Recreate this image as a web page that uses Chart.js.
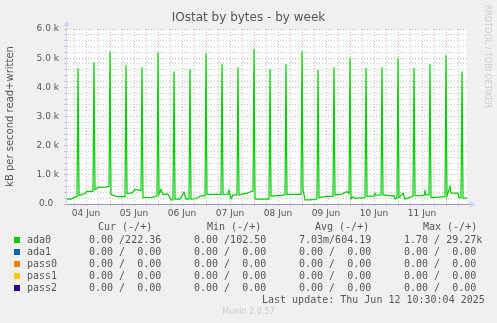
<!DOCTYPE html>
<html>
<head>
<meta charset="utf-8">
<script src="https://cdn.jsdelivr.net/npm/chart.js@4"></script>
<style>
  body { margin: 0; background: #f0f0f0; }
  #wrap { position: relative; width: 497px; height: 323px; overflow: hidden; }
  #c { position: absolute; left: 0; top: 0; }
  .t { position: absolute; white-space: pre; font-family: "DejaVu Sans Mono", monospace; font-size: 10px; color: #555; line-height: 12px; }
  .sq { position: absolute; width: 6px; height: 6px; }
  #title { position: absolute; left: 0; width: 497px; top: 10px; text-align: center; font-family: "DejaVu Sans", sans-serif; font-size: 12px; color: #555; }
  #rrd { position: absolute; left: 483px; top: 5px; font-family: "DejaVu Sans", sans-serif; font-size: 8px; color: #ccc; writing-mode: vertical-rl; white-space: nowrap; }
  #munin { position: absolute; left: 0; width: 497px; top: 307px; text-align: center; font-family: "DejaVu Sans", sans-serif; font-size: 8px; color: #ccc; }
</style>
</head>
<body>
<div id="wrap">
  <canvas id="c" width="497" height="323"></canvas>
  <div id="title">IOstat by bytes - by week</div>
  <div id="rrd">RRDTOOL / TOBI OETIKER</div>
  <div id="munin">Munin 2.0.57</div>
  <div id="legend"></div>
</div>
<script>
// hours since 04 Jun 00:00, ada0 kB/s (read+written)
const hours = [
  2.5, 4.5, 7, 7.5, 8, 8.5, 11.5, 12.5, 15.5, 16, 16.5, 18, 22, 23.5,
  24, 24.5, 27.5, 31.5, 32, 32.5, 35, 36.5, 39, 39.5, 40, 40.5, 45, 47.5,
  48, 48.5, 49.5, 50.5, 53, 54.5, 55.5, 56, 56.5, 59, 61, 62, 63.5, 64, 64.5, 67, 69.5, 71.5,
  72, 72.5, 79.5, 80, 80.5, 83, 83.5, 84.5, 85.5, 87.5, 88, 88.5, 92.5, 94.5, 95.5,
  96, 96.5, 103.5, 104, 104.5, 108, 111.5, 112, 112.5, 119.5,
  120, 120.5, 121.5, 124, 127.5, 128, 128.5, 132, 135.5, 136, 136.5, 140, 142.5, 143.5,
  144, 144.5, 145.5, 146.5, 151.5, 152, 152.5, 156, 156.5, 157, 159.5, 160, 160.5, 163, 166, 166.5, 167.5,
  168, 168.5, 170.5, 171.5, 173, 175.5, 176, 176.5, 181, 181.5, 182, 183.5, 184, 184.5, 191.5,
  192, 192.5, 194, 194.5, 198, 198.5, 199.5, 200, 200.5, 202.5
];
const ada0 = [
  165, 170, 250, 250, 4650, 290, 360, 430, 430, 4860, 490, 570, 580, 610,
  5230, 330, 250, 250, 4760, 360, 380, 500, 470, 470, 4690, 220, 230, 280,
  5200, 330, 500, 330, 340, 140, 140, 4550, 170, 170, 400, 170, 170, 4620, 170, 180, 280, 280,
  5170, 330, 330, 4790, 330, 340, 470, 180, 310, 310, 4690, 310, 370, 430, 440,
  5310, 170, 170, 4620, 270, 290, 310, 4790, 330, 330,
  5240, 500, 140, 140, 170, 4590, 220, 260, 260, 4690, 310, 340, 430, 360,
  5000, 180, 250, 190, 220, 4660, 270, 270, 370, 300, 310, 4690, 310, 290, 290, 170, 220,
  5000, 220, 370, 170, 200, 270, 4660, 290, 290, 450, 310, 310, 4790, 220, 250,
  5100, 270, 600, 370, 370, 220, 220, 4550, 200, 200
];
const dayLabels = ['04 Jun', '05 Jun', '06 Jun', '07 Jun', '08 Jun', '09 Jun', '10 Jun', '11 Jun'];
const yMax = 6000;

// legend table
const seriesNames = ['ada0', 'ada1', 'pass0', 'pass1', 'pass2'];
const seriesColors = ['#00cc00', '#0066b3', '#ff8000', '#ffcc00', '#330099'];
const curVals = ['0.00 /222.36', '0.00 /  0.00', '0.00 /  0.00', '0.00 /  0.00', '0.00 /  0.00'];
const minVals = ['0.00 /102.50', '0.00 /  0.00', '0.00 /  0.00', '0.00 /  0.00', '0.00 /  0.00'];
const avgVals = ['7.03m/604.19', '0.00 /  0.00', '0.00 /  0.00', '0.00 /  0.00', '0.00 /  0.00'];
const maxVals = ['1.70 / 29.27k', '0.00 /  0.00', '0.00 /  0.00', '0.00 /  0.00', '0.00 /  0.00'];
const lastUpdate = 'Last update: Thu Jun 12 10:30:04 2025';

let leg = document.getElementById('legend');
function txt(s, x, y) {
  let d = document.createElement('div');
  d.className = 't';
  d.textContent = s;
  d.style.left = x + 'px';
  d.style.top = y + 'px';
  leg.appendChild(d);
}
txt('Cur (-/+)', 98, 221);
txt('Min (-/+)', 207, 221);
txt('Avg (-/+)', 315, 221);
txt('Max (-/+)', 423, 221);
for (let i = 0; i < seriesNames.length; i++) {
  let y = 234 + i * 12;
  let sq = document.createElement('div');
  sq.className = 'sq';
  sq.style.left = '14px';
  sq.style.top = (y + 3) + 'px';
  sq.style.background = seriesColors[i];
  leg.appendChild(sq);
  txt(seriesNames[i], 27, y);
  txt(curVals[i], 89, y);
  txt(minVals[i], 194, y);
  txt(avgVals[i], 299, y);
  txt(maxVals[i], 404, y);
}
txt(lastUpdate, 262, 294);

const points = hours.map((h, i) => ({x: h, y: ada0[i]}));

const frame = {
  id: 'frame',
  beforeDraw(chart) {
    const {ctx, chartArea: a} = chart;
    ctx.save();
    ctx.fillStyle = '#ffffff';
    ctx.fillRect(a.left, a.top, a.right - a.left, a.bottom - a.top);
    ctx.restore();
  },
  afterDraw(chart) {
    const {ctx, chartArea: a} = chart;
    ctx.save();
    // axes + arrows
    ctx.strokeStyle = '#9a9ab8';
    ctx.lineWidth = 1;
    ctx.beginPath();
    ctx.moveTo(a.left, a.bottom + 0.5);
    ctx.lineTo(a.right + 4, a.bottom + 0.5);
    ctx.stroke();
    ctx.strokeStyle = '#ccd4ff';
    ctx.beginPath();
    ctx.moveTo(a.left - 0.5, a.bottom);
    ctx.lineTo(a.left - 0.5, a.top - 4);
    ctx.stroke();
    ctx.fillStyle = '#ccd4ff';
    ctx.beginPath();
    ctx.moveTo(a.right + 3, a.bottom - 3);
    ctx.lineTo(a.right + 8, a.bottom + 0.5);
    ctx.lineTo(a.right + 3, a.bottom + 4);
    ctx.fill();
    ctx.beginPath();
    ctx.moveTo(a.left - 4, a.top - 3);
    ctx.lineTo(a.left - 0.5, a.top - 8);
    ctx.lineTo(a.left + 3, a.top - 3);
    ctx.fill();
    ctx.restore();
  }
};

const majorGrid = 'rgba(235,130,130,0.65)';
const minorGrid = 'rgba(190,190,190,0.8)';

new Chart(document.getElementById('c'), {
  type: 'line',
  data: {
    datasets: [{
      label: 'ada0',
      data: points,
      borderColor: '#00cc00',
      borderWidth: 1.2,
      pointRadius: 0,
      tension: 0,
      fill: false
    }]
  },
  options: {
    responsive: false,
    animation: false,
    devicePixelRatio: 1,
    layout: {padding: {left: 0, top: 29, right: 30, bottom: 0}},
    plugins: {legend: {display: false}, tooltip: {enabled: false}},
    scales: {
      x: {
        type: 'linear',
        min: 2.5,
        max: 202.5,
        afterFit: (s) => { s.height = 119; },
        afterBuildTicks: (s) => {
          let t = [];
          for (let h = 6; h < 202.5; h += 6) t.push({value: h});
          s.ticks = t;
        },
        ticks: {
          autoSkip: false,
          maxRotation: 0,
          padding: 2,
          color: '#555',
          font: {family: 'DejaVu Sans', size: 9},
          callback: (v) => (v % 24 === 12 ? dayLabels[(v - 12) / 24] : '')
        },
        grid: {
          color: (c) => (c.tick && c.tick.value % 24 === 0 ? majorGrid : minorGrid),
          drawTicks: true,
          tickLength: 2
        },
        border: {display: false, dash: [1, 2]}
      },
      y: {
        min: 0,
        max: yMax,
        afterFit: (s) => { s.width = 67; },
        afterBuildTicks: (s) => {
          let t = [];
          for (let v = 0; v <= yMax; v += 200) t.push({value: v});
          s.ticks = t;
        },
        ticks: {
          autoSkip: false,
          padding: 5,
          color: '#555',
          font: {family: 'DejaVu Sans', size: 9},
          callback: (v) => (v % 1000 === 0 ? (v === 0 ? '0.0  ' : (v / 1000).toFixed(1) + ' k') : '')
        },
        grid: {
          color: (c) => (c.tick && c.tick.value % 1000 === 0 ? majorGrid : minorGrid),
          drawTicks: true,
          tickLength: 3
        },
        border: {display: false, dash: [1, 2]},
        title: {
          display: true,
          text: 'kB per second read+written',
          color: '#555',
          font: {family: 'DejaVu Sans', size: 10}
        }
      }
    }
  },
  plugins: [frame]
});
</script>
</body>
</html>
